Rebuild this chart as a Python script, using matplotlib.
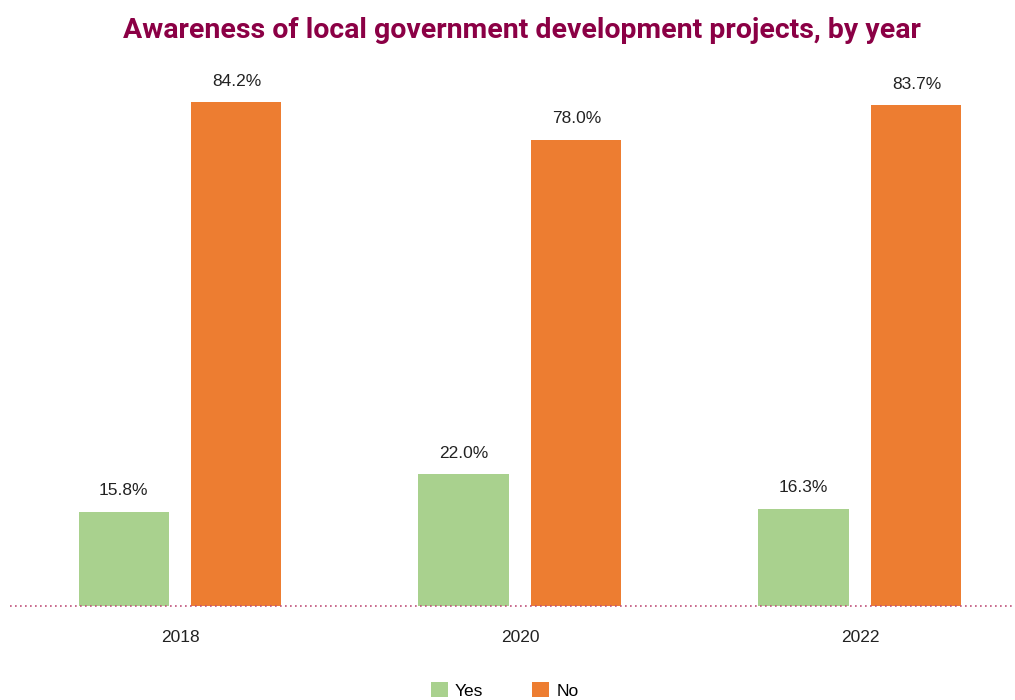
import matplotlib.pyplot as plt
import numpy as np

years = ["2018", "2020", "2022"]
yes_pct = [15.8, 22.0, 16.3]
no_pct = [84.2, 78.0, 83.7]

green = "#A9D18E"
orange = "#ED7D31"
title_color = "#8B0045"

fig = plt.figure(figsize=(10.15, 7), dpi=100)
ax = fig.add_axes([10 / 1015, 94 / 700, 1005 / 1015, 598 / 700])

x = np.arange(len(years))
w = 0.265
off = 0.166
b1 = ax.bar(x - off, yes_pct, w, color=green, label="Yes")
b2 = ax.bar(x + off, no_pct, w, color=orange, label="No")

# value labels above each bar
for bars, vals in ((b1, yes_pct), (b2, no_pct)):
    for rect, v in zip(bars, vals):
        ax.annotate(f"{v:.1f}%", (rect.get_x() + rect.get_width() / 2, v),
                    xytext=(0, 10), textcoords="offset points",
                    ha="center", va="bottom", fontsize=12.5, color="#222222",
                    family="Liberation Sans")

ax.set_xlim(-0.5, 2.456)
ax.set_ylim(0, 100)
ax.axhline(0, color="#C0507A", lw=1.2, ls=(0, (1, 2)), zorder=5, clip_on=False)
for s in ax.spines.values():
    s.set_visible(False)
ax.set_yticks([])
ax.set_xticks(x)
ax.set_xticklabels(years, fontsize=12.5, color="#222222", family="Liberation Sans")
ax.tick_params(axis="x", length=0, pad=17)

fig.text(0.514, 0.957, "Awareness of local government development projects, by year",
         ha="center", va="center", fontsize=20.5, fontweight="bold",
         color=title_color, family="Roboto")

fig.legend(handles=[b1, b2], labels=["Yes", "No"], loc="center",
           bbox_to_anchor=(0.497, 0.014), ncol=2, frameon=False,
           prop={"family": "Liberation Sans", "size": 12.5},
           handlelength=1.0, handleheight=1.0, columnspacing=2.8, handletextpad=0.4)

fig.savefig("out.png", dpi=100)
